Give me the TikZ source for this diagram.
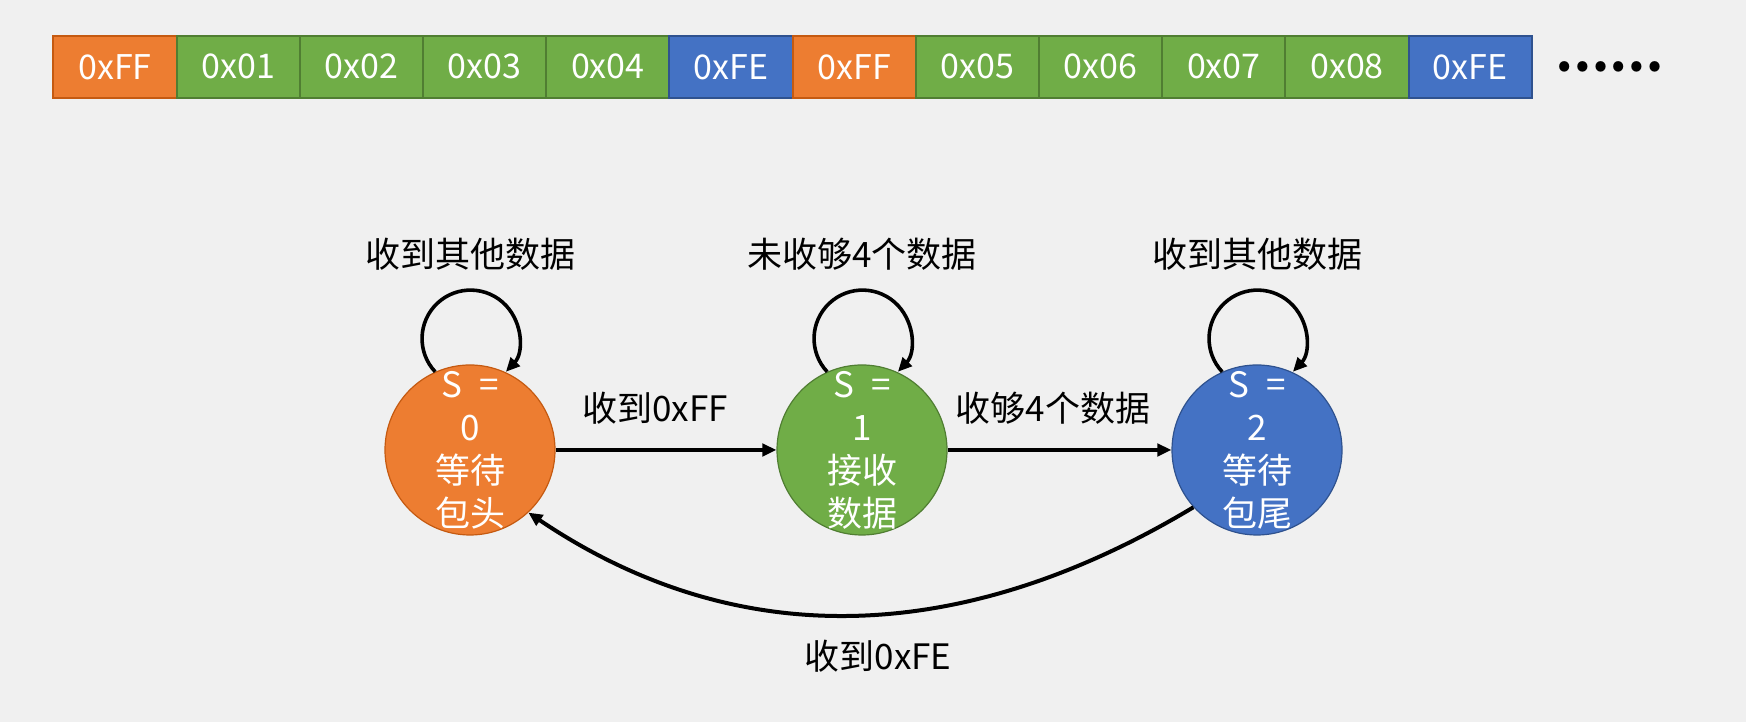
\documentclass[tikz,border=0pt]{standalone}
\usepackage{fontspec}
\setmainfont{Noto Sans CJK SC}
\usetikzlibrary{arrows.meta}
\definecolor{bgcol}{HTML}{F0F0F0}
\definecolor{orangefill}{HTML}{ED7D31}
\definecolor{orangeline}{HTML}{C55A11}
\definecolor{greenfill}{HTML}{70AD47}
\definecolor{greenline}{HTML}{507E32}
\definecolor{bluefill}{HTML}{4472C4}
\definecolor{blueline}{HTML}{2F528F}

\begin{document}
\begin{tikzpicture}[
  x=0.5pt, y=0.5pt,
  cell/.style={draw, line width=1pt, minimum width=61.6pt, minimum height=31.2pt, inner sep=0pt, text=white, font=\fontsize{17}{20}\selectfont},
  headcell/.style={fill=orangefill, draw=orangeline},
  datacell/.style={fill=greenfill, draw=greenline},
  tailcell/.style={fill=bluefill, draw=blueline},
  state/.style={circle, draw, line width=0.6pt, minimum size=85pt, inner sep=0pt},
  statetext/.style={text=white, align=center, inner sep=0pt, font=\fontsize{17.5}{21.5}\selectfont},
  lbl/.style={font=\fontsize{17.5}{21}\selectfont, inner sep=0pt},
  arr/.style={-{Triangle[length=7pt,width=6.2pt]}, line width=2pt}
]
\fill[bgcol] (0,0) rectangle (1746,722);

\foreach \txt/\kind [count=\i from 0] in {0xFF/headcell, 0x01/datacell, 0x02/datacell, 0x03/datacell, 0x04/datacell, 0xFE/tailcell, 0xFF/headcell, 0x05/datacell, 0x06/datacell, 0x07/datacell, 0x08/datacell, 0xFE/tailcell}
  \node[cell, \kind] (cell\i) at ({53.4+123.2*(\i+0.5)}, 655.2) {\txt};
\node[lbl, font=\fontsize{24}{28}\bfseries] (more) at (1609, 655) {……};

\node[state, fill=orangefill, draw=orangeline, label={[statetext]center:{S\enspace=\\0\\等待\\包头}}] (s0) at (470, 272) {};
\node[state, fill=greenfill, draw=greenline, label={[statetext]center:{S\enspace=\\1\\接收\\数据}}] (s1) at (862, 272) {};
\node[state, fill=bluefill, draw=blueline, label={[statetext]center:{S\enspace=\\2\\等待\\包尾}}] (s2) at (1257, 272) {};

\node[lbl] (loop0) at (470, 468) {收到其他数据};
\node[lbl] (loop1) at (862, 468) {未收够4个数据};
\node[lbl] (loop2) at (1257, 468) {收到其他数据};

\draw[arr, line width=1.8pt] (s0.114.6) arc[start angle=223.2, end angle=-43.2, radius=48.5];
\draw[arr, line width=1.8pt] (s1.114.6) arc[start angle=223.2, end angle=-43.2, radius=48.5];
\draw[arr, line width=1.8pt] (s2.114.6) arc[start angle=223.2, end angle=-43.2, radius=48.5];

\draw[arr] (s0) -- node[lbl, pos=0.45, above=12pt] {收到0xFF} (s1);
\draw[arr] (s1) -- node[lbl, pos=0.47, above=12pt] {收够4个数据} (s2);
\draw[arr] (s2.222) to[out=211, in=326] node[lbl, pos=0.47, below=12pt] {收到0xFE} (s0.313);
\end{tikzpicture}
\end{document}
